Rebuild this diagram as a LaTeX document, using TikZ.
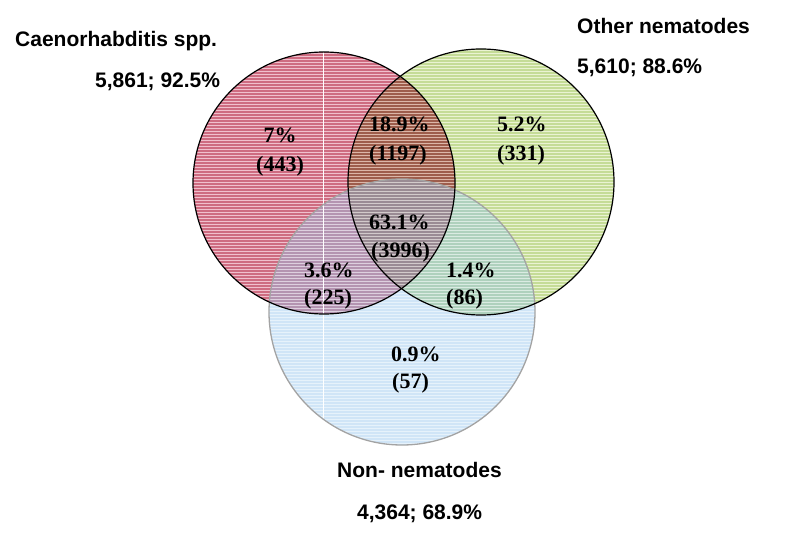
\documentclass[tikz,border=0pt]{standalone}
\usepackage{fontspec}
\setmainfont{Liberation Serif}
\newfontfamily\labelfont{Liberation Sans}
\usetikzlibrary{positioning}
\definecolor{vn-red}{HTML}{F0C0CD}
\definecolor{vn-red-dark}{HTML}{C8566F}
\definecolor{vn-green}{HTML}{EAF3D2}
\definecolor{vn-green-dark}{HTML}{C2DB92}
\definecolor{vn-blue}{HTML}{C8E3F7}
\definecolor{vn-blue-dark}{HTML}{7CB6E9}
\definecolor{vn-blue-edge}{HTML}{A3A3A3}
\tikzset{
  count/.style={font=\fontsize{22}{26}\selectfont\bfseries, inner sep=0pt, anchor=base west},
  setname/.style={font=\labelfont\fontsize{21}{25}\selectfont\bfseries, inner sep=0pt, anchor=base west},
}

\begin{document}
\begin{tikzpicture}[x=1pt, y=-1pt]
    \useasboundingbox (0,0) rectangle (800,537);

    % --- circle centres ---
    \coordinate (caeno) at (324,183);
    \coordinate (other) at (481,182);
    \coordinate (nonnem) at (402,312);

    % --- striped fills: red and green multiplied ---
    \begin{scope}[blend group=multiply]
        \foreach \c/\r/\col in {other/133/vn-green, caeno/131/vn-red} {
            \begin{scope}
                \clip (\c) circle[radius=\r pt];
                \fill[\col] (\c) circle[radius=\r pt];
                \foreach \y in {40,43,...,460}
                    \draw[\col-dark, line width=1.4pt] (180,\y) -- (640,\y);
            \end{scope}
        }
    \end{scope}

    % blue laid over, half see-through
    \begin{scope}[transparency group, opacity=0.45]
        \clip (nonnem) circle[radius=133pt];
        \fill[vn-blue] (nonnem) circle[radius=133pt];
        \foreach \y in {40,43,...,460}
            \draw[vn-blue-dark, line width=1.4pt] (260,\y) -- (540,\y);
    \end{scope}

    % white seam
    \begin{scope}
        \clip (caeno) circle[radius=131pt] (other) circle[radius=133pt] (nonnem) circle[radius=133pt];
        \draw[white, line width=1pt] (323,40) -- (323,460);
    \end{scope}

    % --- outlines ---
    \draw[vn-blue-edge, line width=1.3pt] (nonnem) circle[radius=133pt];
    \draw[black, line width=1.2pt] (caeno) circle[radius=131pt];
    \draw[black, line width=1.2pt] (other) circle[radius=133pt];

    % --- region counts ---
    \node[count, anchor=base] (p-c) at (280,143) {7\%};
    \node[count, anchor=base] (n-c) at (280,172) {(443)};
    \node[count] (p-co) at (369,132) {18.9\%};
    \node[count] (n-co) at (369,161) {(1197)};
    \node[count] (p-o) at (497,132) {5.2\%};
    \node[count] (n-o) at (497,161) {(331)};
    \node[count] (p-all) at (369,230) {63.1\%};
    \node[count] (n-all) at (371,258) {(3996)};
    \node[count] (p-cn) at (304,277) {3.6\%};
    \node[count] (n-cn) at (304,305) {(225)};
    \node[count] (p-on) at (446,277) {1.4\%};
    \node[count] (n-on) at (446,305) {(86)};
    \node[count] (p-n) at (391,361) {0.9\%};
    \node[count] (n-n) at (392,388) {(57)};

    % --- set labels ---
    \node[setname] (l-c) at (15,47) {Caenorhabditis spp.};
    \node[setname] (v-c) at (95,88) {5,861; 92.5\%};
    \node[setname] (l-o) at (577,34) {Other nematodes};
    \node[setname] (v-o) at (577,74) {5,610; 88.6\%};
    \node[setname] (l-n) at (337,477) {Non- nematodes};
    \node[setname] (v-n) at (357,519) {4,364; 68.9\%};
\end{tikzpicture}
\end{document}
